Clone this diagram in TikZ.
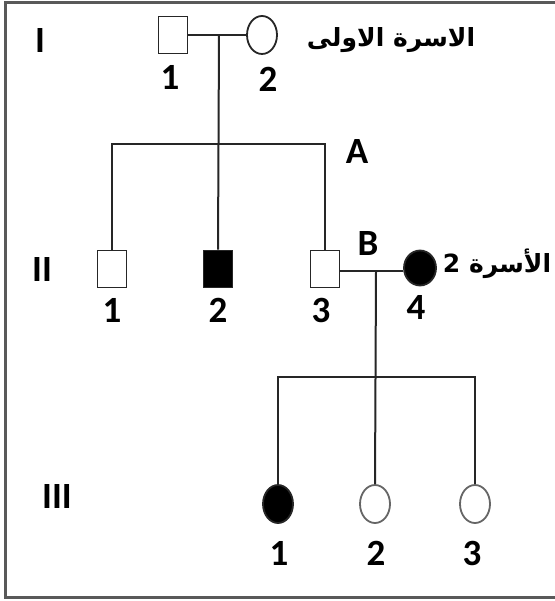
\documentclass[tikz,border=0pt]{standalone}
\usepackage{fontspec}
\setmainfont{Carlito}
\newfontfamily\arabicfont[Script=Arabic]{DejaVu Sans}
\TeXXeTstate=1
\usetikzlibrary{shapes.geometric}
\begin{document}
\begin{tikzpicture}[x=1pt,y=-1pt,
  lnk/.style={line width=2pt,draw=black!85},
  male/.style={rectangle,draw=black!85,line width=1.8pt,minimum width=29pt,minimum height=37pt,inner sep=0pt,fill=white},
  female/.style={ellipse,draw=black!85,line width=1.8pt,minimum width=30pt,minimum height=38pt,inner sep=0pt,fill=white},
  aff/.style={fill=black},
  lab/.style={font=\bfseries\fontsize{37}{40}\selectfont,inner sep=0pt},
  gen/.style={font=\bfseries\fontsize{37}{40}\selectfont,inner sep=0pt},
  ar/.style={font=\arabicfont\bfseries\fontsize{25}{30}\selectfont,inner sep=0pt}]
\useasboundingbox (0,0) rectangle (554,601);
\fill[white] (0,0) rectangle (554,601);
% frame
\draw[line width=3pt,draw=black!65] (560,3) -- (5,3) -- (5,597) -- (560,597);
% generation labels
\node[gen] (gI) at (40,41) {I};
\node[gen] (gII) at (42,270) {II};
\node[gen] (gIII) at (57,496) {III};
% generation I
\node[male] (I1) at (173,35) {};
\node[female] (I2) at (262,35) {};
\node[lab] (lI1) at (170,77) {1};
\node[lab] (lI2) at (268,79) {2};
\node[ar] (fam1) at (391,40) {\beginR الاسرة الاولى\endR};
% generation II
\node[male] (II1) at (112,269) {};
\node[male,aff] (II2) at (218,269) {};
\node[male] (II3) at (325,269) {};
\node[female,aff,minimum width=32pt,minimum height=35pt] (II4) at (420,268) {};
\node[lab] (lII1) at (112,310) {1};
\node[lab] (lII2) at (218,310) {2};
\node[lab] (lII3) at (321,310) {3};
\node[lab] (lII4) at (416,307) {4};
\node[ar] (fam2) at (497,264) {\beginR الأسرة 2\endR};
\node[lab] (A) at (357,152) {A};
\node[lab] (B) at (368,244) {B};
% generation III
\node[female,aff] (III1) at (278,504) {};
\node[female,draw=black!60] (III2) at (375,504) {};
\node[female,draw=black!60] (III3) at (475,504) {};
\node[lab] (lIII1) at (279,553) {1};
\node[lab] (lIII2) at (376,553) {2};
\node[lab] (lIII3) at (472,553) {3};
% connectors
\coordinate (m1) at (219,35);
\coordinate (sA) at (0,144);
\coordinate (m2) at (376,271);
\coordinate (sB) at (0,377);
\draw[lnk] (I1.east) -- (I2.west);
\draw[lnk] (m1) -- (II2.north);
\draw[lnk] (II1.north) |- (sA -| II3.north) -- (II3.north);
\draw[lnk] (II3.east |- m2) -- (II4.west |- m2);
\draw[lnk] (m2) -- (III2.north);
\draw[lnk] (III1.north) |- (sB -| III3.north) -- (III3.north);
\end{tikzpicture}
\end{document}
